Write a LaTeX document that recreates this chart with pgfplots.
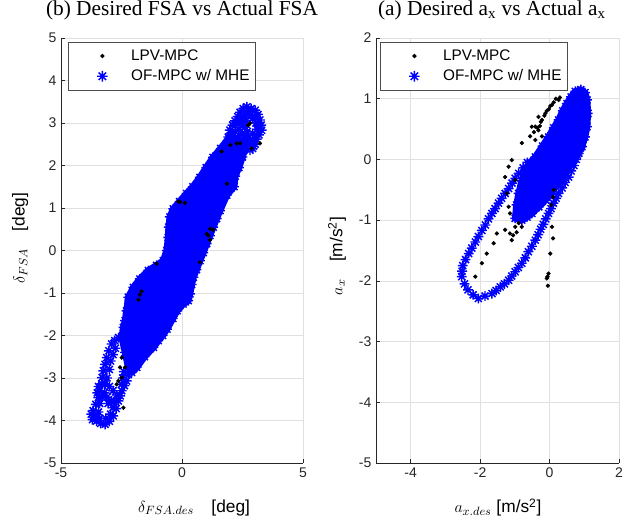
\documentclass[border=0pt]{standalone}
\usepackage{pgfplots}
\pgfplotsset{compat=1.18}
\usepackage{pgfplotstable}
\usepackage{fontspec}
\setmainfont{Liberation Sans}
\newfontfamily\timesfont{Liberation Serif}

% MATLAB-style 8-point asterisk
\pgfdeclareplotmark{mstar}{%
  \pgfpathmoveto{\pgfqpoint{-\pgfplotmarksize}{0pt}}%
  \pgfpathlineto{\pgfqpoint{\pgfplotmarksize}{0pt}}%
  \pgfpathmoveto{\pgfqpoint{0pt}{-\pgfplotmarksize}}%
  \pgfpathlineto{\pgfqpoint{0pt}{\pgfplotmarksize}}%
  \pgfpathmoveto{\pgfqpoint{-0.707\pgfplotmarksize}{-0.707\pgfplotmarksize}}%
  \pgfpathlineto{\pgfqpoint{0.707\pgfplotmarksize}{0.707\pgfplotmarksize}}%
  \pgfpathmoveto{\pgfqpoint{-0.707\pgfplotmarksize}{0.707\pgfplotmarksize}}%
  \pgfpathlineto{\pgfqpoint{0.707\pgfplotmarksize}{-0.707\pgfplotmarksize}}%
  \pgfusepathqstroke}

% ---- (b) FSA: dense core outline
\pgfplotstableread{
x y
2.00 2.70
1.60 2.40
1.28 2.19
1.00 1.95
0.74 1.72
0.45 1.50
0.19 1.34
-0.10 1.15
-0.36 0.98
-0.50 0.79
-0.55 0.55
-0.57 0.31
-0.63 0.00
-0.77 -0.24
-1.05 -0.35
-1.39 -0.47
-1.74 -0.67
-2.01 -0.87
-2.22 -1.10
-2.29 -1.42
-2.35 -1.65
-2.42 -1.81
-2.49 -2.04
-2.35 -2.40
-2.22 -2.75
-2.08 -2.87
-1.87 -2.75
-1.55 -2.50
-1.18 -2.28
-0.98 -2.12
-0.80 -2.00
-0.62 -1.85
-0.38 -1.60
-0.20 -1.42
0.05 -1.26
0.26 -1.18
0.33 -1.02
0.40 -0.80
0.47 -0.63
0.60 -0.45
0.74 -0.24
0.88 -0.05
1.02 0.16
1.15 0.35
1.29 0.55
1.43 0.75
1.57 0.94
1.85 1.30
2.15 1.50
2.20 1.75
2.35 1.95
2.50 2.20
2.60 2.40
2.30 2.60
}\coreL

% ---- (b) FSA: loops at both ends
\pgfplotstableread{
x y
1.91 2.67
1.98 2.83
2.09 2.95
2.19 3.05
2.30 3.15
2.40 3.25
2.53 3.34
2.68 3.38
2.86 3.34
3.02 3.30
3.14 3.20
3.22 3.07
3.27 2.95
3.29 2.83
3.18 2.72
3.09 2.62
3.02 2.50
2.92 2.40
2.81 2.36
2.67 2.45
2.55 2.60
2.50 2.75
2.50 2.95
2.55 3.12
2.35 2.85
2.20 2.80
2.35 3.00
2.05 2.65
2.20 2.65
2.35 2.70
2.20 2.95
2.45 3.10
2.65 3.20
2.85 3.20
3.00 3.15
3.05 3.00
3.10 2.85
2.95 2.60
2.85 2.50
2.70 2.55
2.60 2.70
2.60 2.90
2.65 3.05
3.00 2.70
2.95 2.45
2.75 3.27
2.92 3.10
2.75 2.65
2.70 2.80
2.92 2.75
3.15 2.95
2.40 2.45
-2.62 -2.05
-2.78 -2.12
-2.91 -2.20
-3.02 -2.36
-3.11 -2.52
-3.18 -2.68
-3.25 -2.83
-3.30 -2.99
-3.32 -3.14
-3.40 -3.30
-3.46 -3.46
-3.56 -3.62
-3.67 -3.77
-3.62 -3.93
-3.53 -4.01
-3.36 -4.07
-3.18 -4.09
-3.00 -4.02
-2.84 -3.89
-2.72 -3.72
-2.63 -3.54
-2.55 -3.42
-2.49 -3.30
-2.38 -3.18
-2.29 -3.07
-2.22 -2.92
-3.18 -3.14
-3.00 -3.20
-2.85 -3.30
-2.91 -3.54
-3.05 -3.60
-3.45 -3.20
-3.50 -3.35
-3.75 -3.85
-3.70 -3.98
-2.75 -2.30
-2.85 -2.45
-2.95 -2.60
-3.00 -2.80
-3.10 -3.00
-3.30 -3.45
-3.40 -3.60
-3.45 -3.80
-3.40 -3.95
-3.15 -3.95
-2.95 -3.85
-2.85 -3.70
-2.80 -3.55
-2.50 -3.15
-2.45 -3.00
-2.40 -2.85
-3.20 -3.35
-3.10 -3.45
-2.70 -3.40
}\loopsL

% ---- (b) FSA: LPV-MPC points
\pgfplotstableread{
x y
2.81 2.99
2.74 2.95
3.22 2.52
2.88 2.40
2.40 2.52
2.00 2.48
2.26 2.52
1.64 2.33
1.85 1.57
-0.15 1.15
-0.08 1.14
0.12 1.12
1.02 0.39
1.16 0.51
1.29 0.49
1.09 0.35
1.16 0.25
0.74 -0.28
-1.05 -0.31
-1.67 -0.96
-1.74 -1.04
-1.80 -1.16
-2.49 -2.52
-2.35 -2.75
-2.56 -2.75
-2.63 -3.07
-2.49 -2.99
-2.70 -3.15
-2.42 -3.70
}\dotsL

% ---- (a) a_x: dense core outline
\pgfplotstableread{
x y
-0.99 -0.97
-0.95 -0.75
-0.89 -0.56
-0.80 -0.35
-0.70 -0.17
-0.55 -0.05
-0.41 0.04
-0.20 0.22
-0.03 0.37
0.12 0.52
0.26 0.65
0.38 0.80
0.50 0.92
0.62 1.03
0.74 1.12
0.90 1.15
1.02 1.10
1.08 0.98
1.10 0.76
1.08 0.54
1.02 0.37
0.93 0.21
0.80 0.07
0.64 -0.06
0.45 -0.22
0.26 -0.39
0.07 -0.53
-0.12 -0.67
-0.31 -0.78
-0.51 -0.89
-0.65 -0.95
-0.80 -1.00
}\coreR

% ---- (a) a_x: outer ellipse
\pgfplotstableread{
x y
1.08 0.81
1.06 0.70
1.03 0.59
1.01 0.48
0.98 0.37
0.93 0.28
0.89 0.19
0.84 0.10
0.77 0.00
0.70 -0.10
0.62 -0.19
0.55 -0.29
0.45 -0.38
0.36 -0.47
0.26 -0.56
0.19 -0.64
0.11 -0.72
0.04 -0.81
-0.03 -0.89
-0.11 -0.98
-0.18 -1.07
-0.26 -1.15
-0.33 -1.24
-0.41 -1.33
-0.51 -1.43
-0.61 -1.52
-0.70 -1.62
-0.80 -1.71
-0.90 -1.78
-0.99 -1.85
-1.09 -1.92
-1.18 -1.99
-1.30 -2.05
-1.42 -2.10
-1.54 -2.16
-1.66 -2.21
-1.86 -2.25
-2.05 -2.29
-2.20 -2.23
-2.35 -2.15
-2.45 -2.05
-2.53 -1.93
-2.52 -1.84
-2.50 -1.75
-2.42 -1.65
-2.33 -1.55
-2.24 -1.46
-2.14 -1.36
-2.05 -1.27
-1.95 -1.17
-1.85 -1.08
-1.76 -0.98
-1.66 -0.89
-1.57 -0.81
-1.47 -0.72
-1.38 -0.64
-1.28 -0.56
-1.18 -0.48
-1.08 -0.39
-0.99 -0.31
-0.89 -0.23
-0.76 -0.14
-0.64 -0.05
}\ringR

% ---- (a) a_x: LPV-MPC points
\pgfplotstableread{
x y
0.30 1.02
0.26 0.98
0.18 1.00
0.12 0.94
0.07 0.90
0.02 0.88
-0.02 0.83
-0.08 0.80
-0.12 0.76
-0.15 0.72
-0.22 0.65
-0.25 0.62
-0.28 0.55
-0.32 0.48
-0.35 0.52
-0.41 0.32
-0.51 0.54
-0.56 0.38
-0.45 0.45
-0.32 0.70
-0.41 0.54
-0.22 0.38
-0.80 0.27
-1.09 -0.01
-1.18 -0.12
-1.28 -0.29
-0.99 -0.34
-1.23 -0.56
-1.18 -0.78
-1.14 -0.89
-1.28 -1.16
-1.14 -1.22
-1.09 -1.33
-0.99 -1.11
-0.89 -1.05
-0.80 -1.11
-1.05 -1.25
-0.95 -1.20
-1.52 -1.22
-1.61 -1.38
-1.81 -1.55
-1.95 -1.71
-2.14 -1.93
0.02 -1.55
-0.03 -1.88
-0.06 -1.93
-0.08 -1.96
-0.05 -2.08
0.07 -1.11
0.10 -1.30
0.12 -0.50
0.10 -0.62
0.05 -0.75
}\dotsR

\pgfplotsset{
  msub/.style={
    scale only axis,
    anchor=south west,
    axis x line*=bottom, axis y line*=left,
    axis line style={-, black!85, line width=0.6pt},
    tick align=inside,
    major tick length=3pt,
    tick style={black!85, line width=0.5pt},
    grid=major,
    grid style={black!12, line width=0.5pt},
    tick label style={font=\fontsize{10.5}{12}\selectfont, text=black!85},
    /pgf/number format/assume math mode=true,
    label style={font=\fontsize{13}{15}\selectfont},
    title style={font=\timesfont\fontsize{16}{19}\selectfont, anchor=base},
    legend style={
      at={(0,1)}, anchor=north west,
      draw=black!70, line width=0.5pt, fill=white,
      font=\fontsize{11.5}{13}\selectfont,
      cells={anchor=west},
      inner xsep=2pt, inner ysep=3.5pt, row sep=1.5pt,
    },
    legend image code/.code={%
      \path (-23pt,0pt) (19pt,0pt);
      \draw[##1] plot coordinates {(0pt,0pt)};},
  },
  blue stars/.style={only marks, mark=mstar, blue, mark size=3.7pt, line width=1.1pt, forget plot},
  black dots/.style={only marks, mark=*, black, mark size=1.4pt, forget plot},
}

\begin{document}
\begin{tikzpicture}
\path[use as bounding box] (0,0) rectangle (468pt,392.25pt);

% ===== left: (b) FSA =====
\begin{axis}[
  msub,
  at={(45.75pt,45pt)}, width=181.5pt, height=318.75pt,
  xmin=-5, xmax=5, ymin=-5, ymax=5,
  xtick={-5,0,5}, ytick={-5,-4,...,5},
  title={(b) Desired FSA vs Actual FSA},
  title style={at={(axis description cs:0.5,1.035)}},
  xlabel={$\delta_{FSA.des}$\quad[deg]},
  xlabel style={at={(axis description cs:0.55,-0.105)}, anchor=center},
  ylabel={$\delta_{FSA}$\quad[deg]},
  ylabel style={at={(axis description cs:-0.169,0.529)}, anchor=center},
  legend style={xshift=5.25pt, yshift=-3pt},
]
\addlegendimage{only marks, mark=*, black, mark size=1.4pt}
\addlegendimage{only marks, mark=mstar, blue, mark size=4pt, line width=1.1pt}
\addplot[blue, fill=blue, line width=5pt, line join=round, forget plot]
  table {\coreL} -- cycle;
\addplot[blue stars] table {\coreL};
\addplot[blue stars] table {\loopsL};
\addplot[black dots] table {\dotsL};
\legend{LPV-MPC, OF-MPC w/ MHE}
\end{axis}

% ===== right: (a) a_x =====
\begin{axis}[
  msub,
  at={(282pt,45pt)}, width=182.25pt, height=318.75pt,
  xmin=-5, xmax=2, ymin=-5, ymax=2,
  xtick={-4,-2,0,2}, ytick={-5,-4,...,2},
  title={(a) Desired a\textsubscript{x} vs Actual a\textsubscript{x}},
  title style={at={(axis description cs:0.477,1.035)}},
  xlabel={$a_{x.des}$ [m/s\textsuperscript{2}]},
  xlabel style={at={(axis description cs:0.502,-0.105)}, anchor=center},
  ylabel={$a_x$\quad[m/s\textsuperscript{2}]},
  ylabel style={at={(axis description cs:-0.160,0.487)}, anchor=center},
  legend style={xshift=3pt, yshift=-3pt},
]
\addlegendimage{only marks, mark=*, black, mark size=1.4pt}
\addlegendimage{only marks, mark=mstar, blue, mark size=4pt, line width=1.1pt}
\addplot[blue, fill=blue, line width=5pt, line join=round, forget plot]
  table {\coreR} -- cycle;
\addplot[blue stars] table {\coreR};
\addplot[blue stars] table {\ringR};
\addplot[black dots] table {\dotsR};
\legend{LPV-MPC, OF-MPC w/ MHE}
\end{axis}
\end{tikzpicture}
\end{document}
